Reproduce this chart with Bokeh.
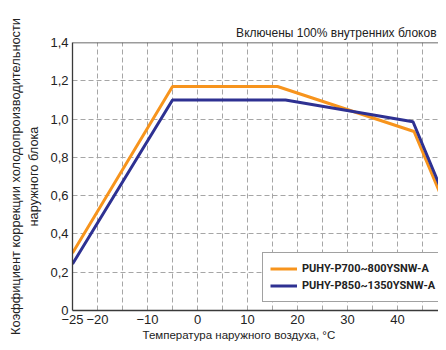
from bokeh.plotting import figure
from bokeh.models import FixedTicker, Span, Legend, LegendItem, Range1d, Title
from bokeh.embed import file_html
from bokeh.resources import INLINE

# ---- data ----
temp_a = [-25, -5, 16, 43.3, 50]
coef_a = [0.30, 1.17, 1.17, 0.935, 0.52]
temp_b = [-25, -5, 17.6, 43.1, 50]
coef_b = [0.243, 1.10, 1.10, 0.986, 0.555]
name_a = "PUHY-P700~800YSNW-A"
name_b = "PUHY-P850~1350YSNW-A"

x_ticks = [-25, -20, -10, 0, 10, 20, 30, 40, 50]
x_tick_labels = ["\u221225", "\u221220", "\u221210", "0", "10", "20", "30", "40", "50"]
x_grid = [-20, -15, -10, -5, 0, 5, 10, 15, 20, 25, 30, 35, 40, 45]
y_ticks = [0, 0.2, 0.4, 0.6, 0.8, 1.0, 1.2, 1.4]
y_tick_labels = ["0", "0,2", "0,4", "0,6", "0,8", "1,0", "1,2", "1,4"]
y_grid = [0.2, 0.4, 0.6, 0.8, 1.0, 1.2]

title_text = "Включены 100% внутренних блоков"
x_label = "Температура наружного воздуха, °C"
y_label_1 = "Коэффициент коррекции холодопроизводительности"
y_label_2 = "наружного блока"

ORANGE = "#F7941D"
BLUE = "#2E3192"
AXIS = "#3a3a3a"
GRID = "#a6a6a6"
TEXT = "#222222"
FONT = "Liberation Sans"
BOLD_FONT = "Roboto"

p = figure(width=438, height=342, output_backend="svg", toolbar_location=None,
           x_range=Range1d(-25, 48.2), y_range=Range1d(0, 1.4),
           min_border_left=72, min_border_right=0, min_border_top=42,
           min_border_bottom=32)
p.outline_line_color = None
p.background_fill_color = "white"
p.border_fill_color = "white"

# title (top right)
p.title = Title(text=title_text, align="right", offset=2, standoff=6,
                text_font=FONT, text_font_size="12px", text_font_style="normal",
                text_color=TEXT)

# axes
for ax in (p.xaxis[0], p.yaxis[0]):
    ax.axis_line_color = AXIS
    ax.axis_line_width = 1.3
    ax.major_tick_out = 0
    ax.major_tick_in = 0
    ax.minor_tick_out = 0
    ax.minor_tick_in = 0
    ax.major_label_text_font = FONT
    ax.major_label_text_font_size = "13px"
    ax.major_label_text_color = TEXT

p.xaxis.ticker = FixedTicker(ticks=x_ticks)
p.xaxis.major_label_overrides = dict(zip(x_ticks, x_tick_labels))
p.xaxis.major_label_standoff = 4
p.yaxis.ticker = FixedTicker(ticks=y_ticks)
p.yaxis.major_label_overrides = dict(zip(y_ticks, y_tick_labels))
p.yaxis.major_label_standoff = 4

p.yaxis.axis_label = y_label_1 + "\n" + y_label_2
p.yaxis.axis_label_text_font = FONT
p.yaxis.axis_label_text_font_size = "12.8px"
p.yaxis.axis_label_text_font_style = "normal"
p.yaxis.axis_label_text_color = TEXT
p.yaxis.axis_label_standoff = 6

# x-axis caption placed below, shifted like the original
p.add_layout(Title(text=x_label, align="left", offset=70, standoff=0,
                   text_font=FONT, text_font_size="11.5px", text_font_style="normal",
                   text_color=TEXT), "below")

p.xgrid.ticker = FixedTicker(ticks=x_grid)
p.ygrid.ticker = FixedTicker(ticks=y_grid)
for g in (p.xgrid[0], p.ygrid[0]):
    g.grid_line_color = GRID
    g.grid_line_dash = "5 3"
    g.grid_line_width = 1

p.add_layout(Span(location=1.4, dimension="width", line_color=AXIS, line_width=1.3))

ra = p.line(temp_a, coef_a, line_color=ORANGE, line_width=3)
rb = p.line(temp_b, coef_b, line_color=BLUE, line_width=3)

legend = Legend(items=[LegendItem(label=name_a, renderers=[ra]),
                       LegendItem(label=name_b, renderers=[rb])],
                location=(190, 8))
legend.border_line_color = "#444444"
legend.border_line_width = 1.2
legend.background_fill_color = "white"
legend.background_fill_alpha = 1
legend.padding = 7
legend.margin = 0
legend.spacing = 0
legend.glyph_width = 27
legend.glyph_height = 17
legend.label_height = 17
legend.label_standoff = 5
legend.label_text_font = BOLD_FONT
legend.label_text_font_style = "bold"
legend.label_text_font_size = "11px"
legend.label_text_color = TEXT
p.add_layout(legend)

open("out.html", "w").write(file_html(p, INLINE))
